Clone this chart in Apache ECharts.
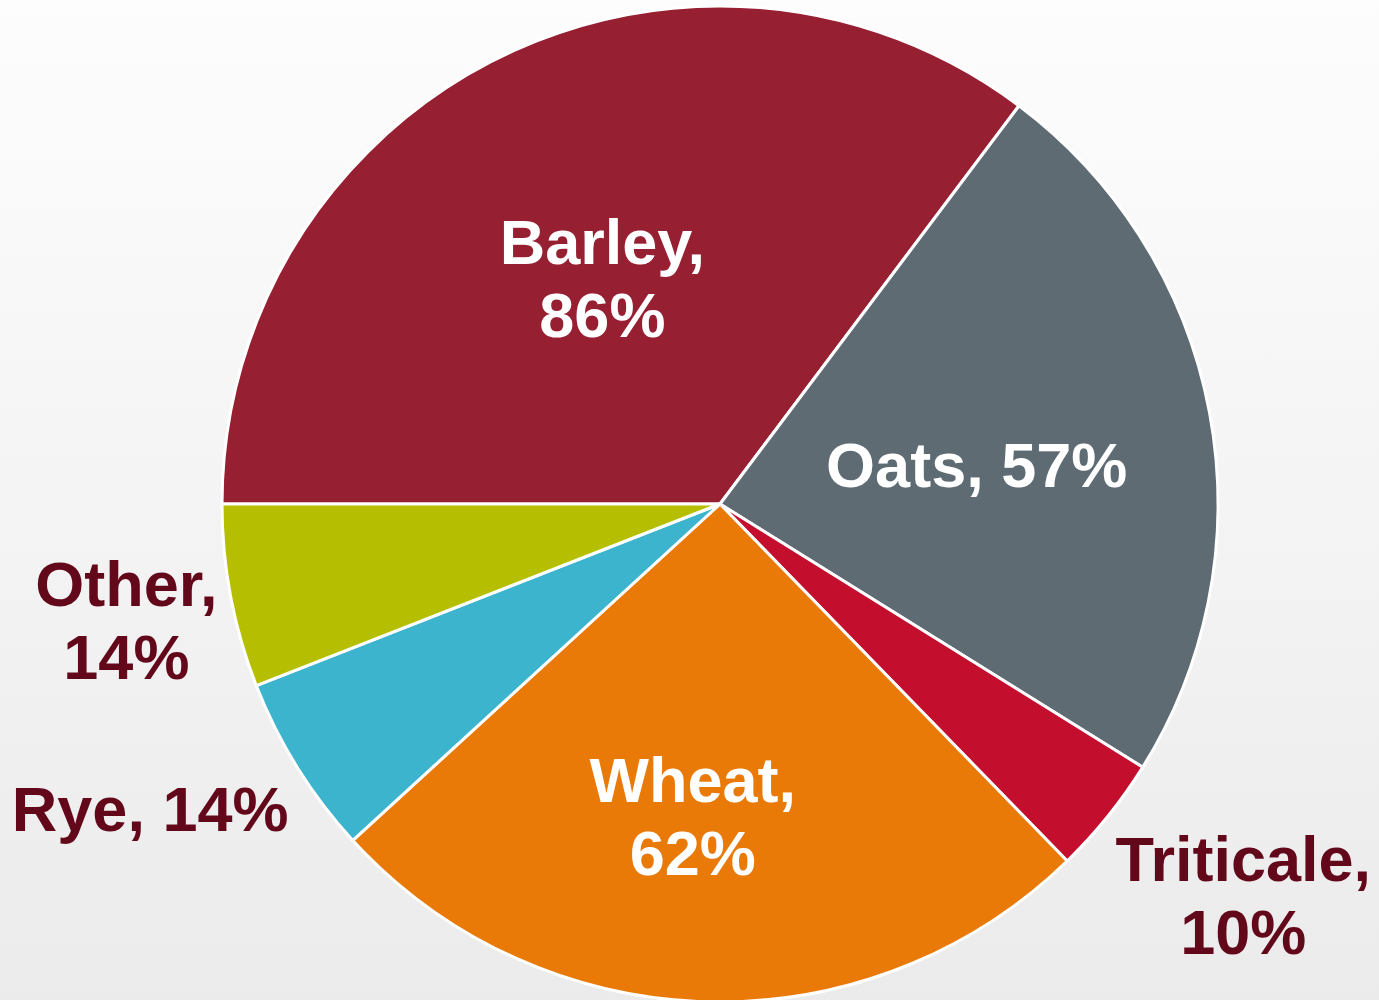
<!DOCTYPE html>
<html>
<head>
<meta charset="utf-8">
<script src="https://cdn.jsdelivr.net/npm/echarts@6/dist/echarts.min.js"></script>
<style>
html,body{margin:0;padding:0;}
#chart{width:1379px;height:1000px;background:linear-gradient(to bottom,#fdfdfd 0%,#ebebeb 100%);}
</style>
</head>
<body>
<div id="chart"></div>
<script>
// Data (slice sizes in degrees of arc)
const categories = ['Barley', 'Oats', 'Triticale', 'Wheat', 'Rye', 'Other'];
const sliceValues = [126.9, 85.0, 13.9, 91.7, 21.1, 21.4];
const labelTexts = ['Barley,\n86%', 'Oats, 57%', 'Triticale,\n10%', 'Wheat,\n62%', 'Rye, 14%', 'Other,\n14%'];

const colors = ['#971F32', '#5F6B73', '#C30E2E', '#E97A08', '#3DB4CE', '#B5BF00'];
const insideLabel = [true, true, false, true, false, false];
const labelShift = [[-5, 5], [9, 12], [327, 238], [-20, 65], [-356, 176], [-346, 74]];

const chart = echarts.init(document.getElementById('chart'), null, {renderer: 'canvas'});

const data = categories.map((name, i) => ({
  name: name,
  value: sliceValues[i],
  itemStyle: {color: colors[i]},
  label: {
    formatter: labelTexts[i],
    color: insideLabel[i] ? '#ffffff' : '#62081A'
  }
}));

chart.setOption({
  animation: false,
  series: [{
    type: 'pie',
    center: [720, 504],
    radius: [0, 498],
    startAngle: 180,
    clockwise: true,
    avoidLabelOverlap: false,
    itemStyle: {borderColor: '#ffffff', borderWidth: 3},
    label: {
      show: true,
      position: 'inside',
      fontFamily: '"Liberation Sans", Arial, sans-serif',
      fontWeight: 'bold',
      fontSize: 63,
      lineHeight: 73,
      align: 'center'
    },
    labelLine: {show: false},
    labelLayout: function (params) {
      const s = labelShift[params.dataIndex];
      return {dx: s[0], dy: s[1]};
    },
    emphasis: {disabled: true},
    data: data
  }]
});
</script>
</body>
</html>
